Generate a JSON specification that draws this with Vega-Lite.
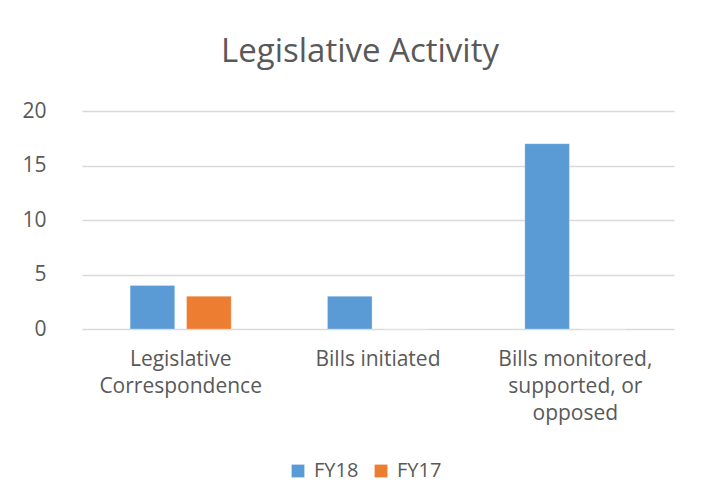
{
  "$schema": "https://vega.github.io/schema/vega-lite/v6.json",
  "autosize": {"type": "none"},
  "width": 592,
  "height": 218,
  "padding": {"left": 82, "top": 111, "right": 36, "bottom": 173},
  "background": "white",
  "title": {
    "text": "Legislative Activity",
    "anchor": "middle",
    "frame": "group",
    "dx": -18,
    "offset": 31,
    "fontSize": 33,
    "fontWeight": "normal",
    "font": "Open Sans",
    "color": "#595959"
  },
  "data": {
    "values": [
      {"category": "Legislative Correspondence", "series": "FY18", "value": 4},
      {"category": "Legislative Correspondence", "series": "FY17", "value": 3},
      {"category": "Bills initiated", "series": "FY18", "value": 3},
      {"category": "Bills initiated", "series": "FY17", "value": 0},
      {"category": "Bills monitored, supported, or opposed", "series": "FY18", "value": 17},
      {"category": "Bills monitored, supported, or opposed", "series": "FY17", "value": 0}
    ]
  },
  "mark": {"type": "bar"},
  "encoding": {
    "x": {
      "field": "category",
      "type": "nominal",
      "sort": null,
      "scale": {"paddingInner": 0.488, "paddingOuter": 0.244},
      "axis": {
        "title": null,
        "labelAngle": 0,
        "domain": false,
        "ticks": false,
        "labelPadding": 19,
        "labelFontSize": 21,
        "labelFont": "Open Sans",
        "labelColor": "#595959",
        "labelLineHeight": 27,
        "labelExpr": "datum.value == 'Legislative Correspondence' ? ['Legislative', 'Correspondence'] : datum.value == 'Bills monitored, supported, or opposed' ? ['Bills monitored,', 'supported, or', 'opposed'] : datum.value"
      }
    },
    "xOffset": {
      "field": "series",
      "type": "nominal",
      "sort": ["FY18", "FY17"],
      "scale": {"paddingInner": 0.21, "paddingOuter": 0}
    },
    "y": {
      "field": "value",
      "type": "quantitative",
      "scale": {"domain": [0, 20]},
      "axis": {
        "title": null,
        "values": [0, 5, 10, 15, 20],
        "domain": false,
        "ticks": false,
        "labelPadding": 36,
        "labelFontSize": 21,
        "labelFont": "Open Sans",
        "labelColor": "#595959",
        "gridColor": "#d9d9d9",
        "gridWidth": 1.3
      }
    },
    "color": {
      "field": "series",
      "type": "nominal",
      "sort": ["FY18", "FY17"],
      "scale": {"domain": ["FY18", "FY17"], "range": ["#5B9BD5", "#ED7D31"]},
      "legend": {
        "title": null,
        "orient": "none",
        "direction": "horizontal",
        "legendX": 206,
        "legendY": 350,
        "symbolType": "square",
        "symbolSize": 170,
        "symbolStrokeWidth": 0,
        "labelFontSize": 20,
        "labelFont": "Open Sans",
        "labelColor": "#595959",
        "columnPadding": 12,
        "labelOffset": 6
      }
    }
  },
  "config": {
    "view": {"stroke": null},
    "bar": {"stroke": "white", "strokeWidth": 0.5, "strokeOpacity": 0.5}
  }
}
